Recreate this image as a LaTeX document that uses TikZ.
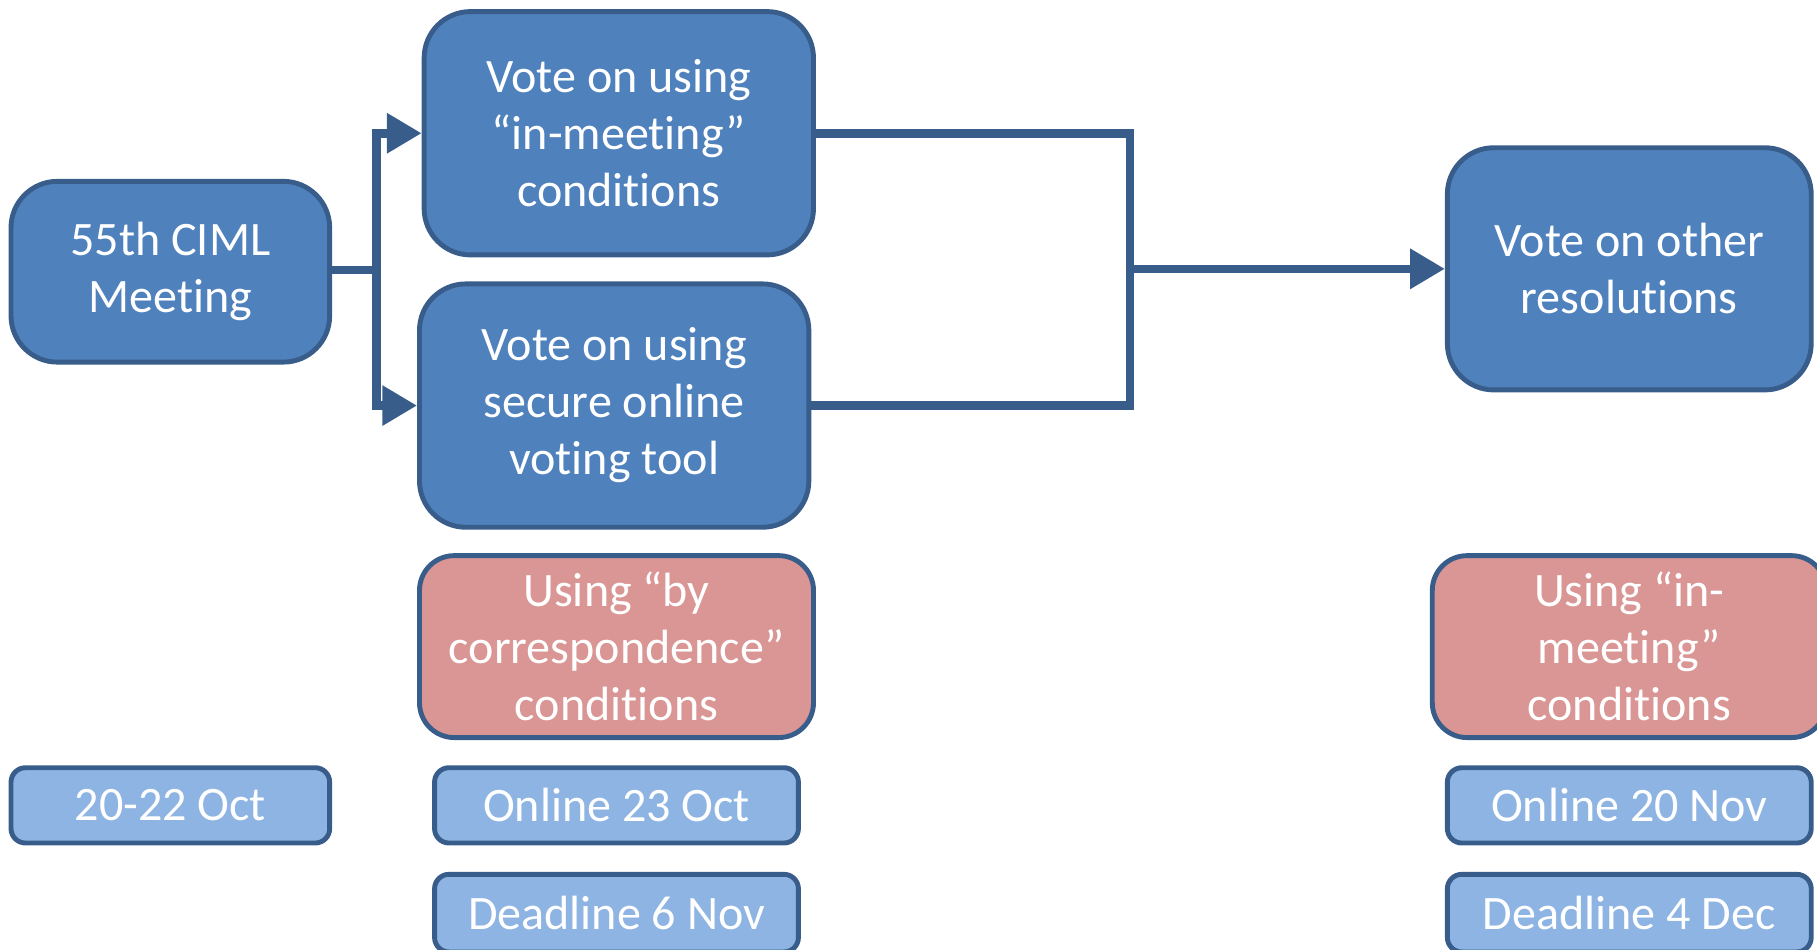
\documentclass[tikz,border=0pt]{standalone}
\usepackage{fontspec}
\setmainfont{Carlito}
\usepackage{xcolor}
\usetikzlibrary{arrows.meta, positioning, calc}

\definecolor{boxblue}{HTML}{4F81BD}
\definecolor{lineblue}{HTML}{385D8A}
\definecolor{lightblue}{HTML}{8EB4E3}
\definecolor{rosebox}{HTML}{D99694}
% keeps t and i apart (no ligature)
\newcommand{\nolig}{\kern0pt}

\begin{document}
\begin{tikzpicture}[
    stage/.style={draw=lineblue, line width=2.4pt, fill=boxblue, rounded corners=0.8cm, text=white, align=center, font=\fontsize{23.6}{28}\selectfont},
    rule/.style={stage, fill=rosebox, rounded corners=0.6cm},
    datebox/.style={stage, fill=lightblue, rounded corners=0.25cm},
    conn/.style={draw=lineblue, line width=4.2pt},
    arr/.style={conn, -{Triangle[length=0.6cm, width=0.66cm]}}
]
    \useasboundingbox (0,0) rectangle (31.36,-16.38);

    % Voting stages
    \node[stage, minimum width=5.5cm, minimum height=3.12cm] (meeting) at (2.94,-4.69) {55th CIML\\Meet\nolig ing};
    \node[stage, minimum width=6.72cm, minimum height=4.2cm] (inmeet) at (10.68,-2.3) {Vote on using\\“in-meet\nolig ing”\\condit\nolig ions};
    \node[stage, minimum width=6.72cm, minimum height=4.2cm] (online) at (10.6,-7.0) {Vote on using\\secure online\\vot\nolig ing tool};
    \node[stage, minimum width=6.28cm, minimum height=4.18cm] (other) at (28.12,-4.64) {Vote on other\\resolut\nolig ions};

    % Conditions
    \node[rule, minimum width=6.8cm, minimum height=3.14cm] (corresp) at (10.64,-11.16) {Using “by\\correspondence”\\condit\nolig ions};
    \node[rule, minimum width=6.8cm, minimum height=3.14cm] (meetcond) at (28.12,-11.16) {Using “in-\\meet\nolig ing”\\condit\nolig ions};

    % Dates
    \node[datebox, minimum width=5.5cm, minimum height=1.3cm] (d1) at (2.94,-13.9) {20-22 Oct};
    \node[datebox, minimum width=6.28cm, minimum height=1.3cm] (d2) at (10.64,-13.9) {Online 23 Oct};
    \node[datebox, minimum width=6.28cm, minimum height=1.34cm] (d3) at (10.64,-15.76) {Deadline 6 Nov};
    \node[datebox, minimum width=6.28cm, minimum height=1.3cm] (d4) at (28.12,-13.9) {Online 20 Nov};
    \node[datebox, minimum width=6.28cm, minimum height=1.34cm] (d5) at (28.12,-15.76) {Deadline 4 Dec};

    % Connectors
    \coordinate (split) at (6.5,-4.66);
    \coordinate (join) at (19.5,-4.64);
    \draw[conn] (split -| meeting.east) -- (split);
    \draw[arr] (split) |- (inmeet.west);
    \draw[arr] (split) |- (online.west);
    \draw[conn] (inmeet.east) -| (join);
    \draw[conn] (online.east) -| (join);
    \draw[arr] (join) -- (other.west);
\end{tikzpicture}
\end{document}
